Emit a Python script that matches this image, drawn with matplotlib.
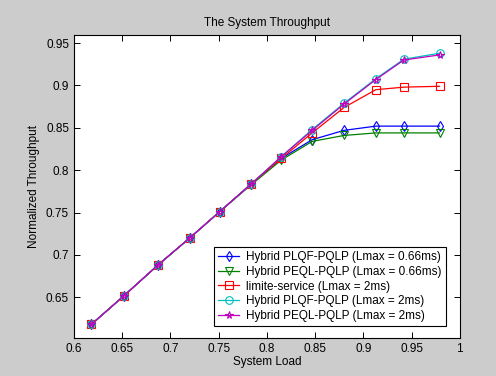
import matplotlib
matplotlib.use('Agg')
import matplotlib.pyplot as plt
from matplotlib.ticker import FuncFormatter

plt.rcParams['font.family'] = 'Liberation Sans'
plt.rcParams['xtick.direction'] = 'in'
plt.rcParams['ytick.direction'] = 'in'

# system load values (x)
load = [0.618, 0.652, 0.687, 0.720, 0.751, 0.784, 0.815, 0.847, 0.880, 0.913, 0.942, 0.979]

# normalized throughput for each scheme
plqf_066 = [0.618, 0.652, 0.688, 0.720, 0.751, 0.784, 0.814, 0.836, 0.847, 0.852, 0.852, 0.852]
peql_066 = [0.618, 0.652, 0.688, 0.720, 0.751, 0.783, 0.812, 0.834, 0.841, 0.844, 0.844, 0.844]
limite_2 = [0.618, 0.652, 0.688, 0.720, 0.751, 0.784, 0.814, 0.844, 0.874, 0.895, 0.898, 0.899]
plqf_2 = [0.618, 0.652, 0.688, 0.720, 0.751, 0.784, 0.816, 0.848, 0.879, 0.908, 0.931, 0.938]
peql_2 = [0.618, 0.652, 0.688, 0.720, 0.751, 0.784, 0.816, 0.847, 0.878, 0.907, 0.930, 0.936]

labels = ['Hybrid PLQF-PQLP (Lmax = 0.66ms)',
          'Hybrid PEQL-PQLP (Lmax = 0.66ms)',
          'limite-service (Lmax = 2ms)',
          'Hybrid PLQF-PQLP (Lmax = 2ms)',
          'Hybrid PEQL-PQLP (Lmax = 2ms)']

fig = plt.figure(figsize=(4.96, 3.76), dpi=100, facecolor='#cccccc')
ax = fig.add_axes([0.149, 0.101, 0.778, 0.807])

ax.plot(load, plqf_066, color='b', marker='d', mfc='none', ms=5.5, mew=0.8, lw=0.9)
ax.plot(load, peql_066, color='#008000', marker='v', mfc='none', ms=5.5, mew=0.8, lw=0.9)
ax.plot(load, limite_2, color='r', marker='s', mfc='none', ms=5.5, mew=0.8, lw=0.9)
ax.plot(load, plqf_2, color='c', marker='o', mfc='none', ms=5.5, mew=0.8, lw=0.9)
ax.plot(load, peql_2, color='m', marker='*', mfc='none', ms=5.5, mew=0.8, lw=0.9)

ax.set_xlim(0.6, 1.0)
ax.set_ylim(0.602, 0.96)
ax.set_xticks([0.6, 0.65, 0.7, 0.75, 0.8, 0.85, 0.9, 0.95, 1.0])
ax.set_yticks([0.65, 0.7, 0.75, 0.8, 0.85, 0.9, 0.95])
ax.xaxis.set_major_formatter(FuncFormatter(lambda v, p: '%g' % round(v, 2)))
ax.yaxis.set_major_formatter(FuncFormatter(lambda v, p: '%g' % round(v, 2)))
ax.tick_params(labelsize=8.5, length=4, top=True, right=True, width=0.7)
for s in ax.spines.values():
    s.set_linewidth(0.8)

ax.set_title('The System Throughput', fontsize=8.5)
ax.set_xlabel('System Load', fontsize=8.5, labelpad=1)
ax.set_ylabel('Normalized Throughput', fontsize=8.5)

leg = ax.legend(labels, loc='lower right', bbox_to_anchor=(0.964, 0.04),
                borderaxespad=0, fontsize=8.5, fancybox=False,
                edgecolor='black', framealpha=1,
                handlelength=1.8, handletextpad=0.6,
                labelspacing=0.22, borderpad=0.35)
leg.get_frame().set_linewidth(0.8)

fig.savefig('out.png', dpi=100, facecolor=fig.get_facecolor())
